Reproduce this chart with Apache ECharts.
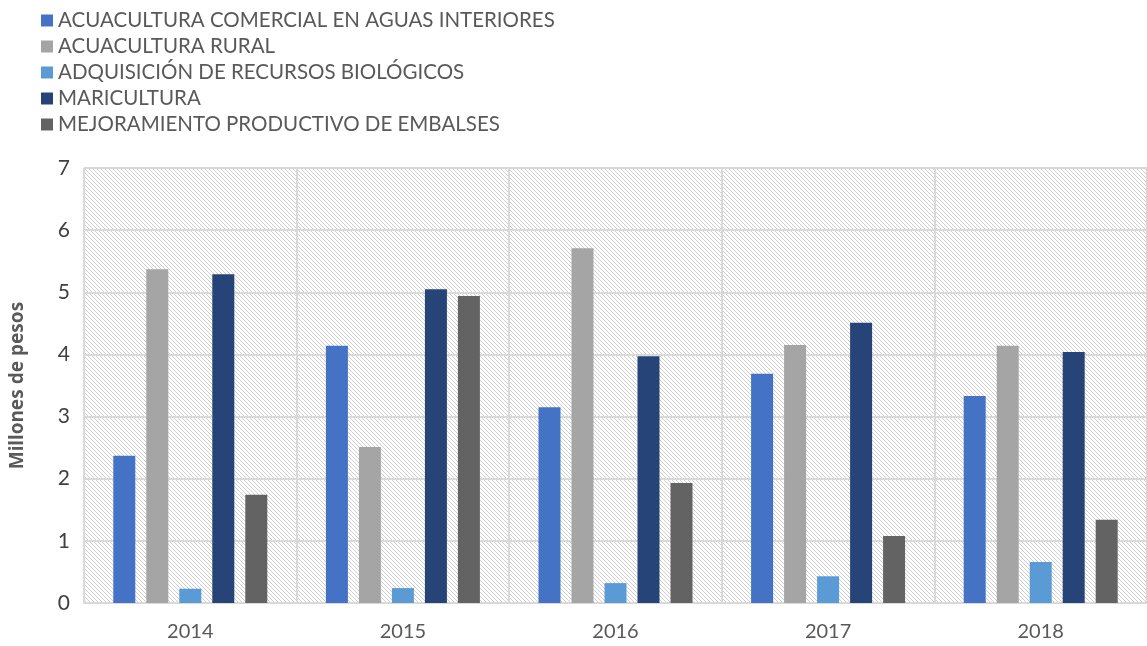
<!DOCTYPE html>
<html>
<head>
<meta charset="utf-8">
<script src="https://cdn.jsdelivr.net/npm/echarts@6/dist/echarts.min.js"></script>
<style>
  html, body { margin: 0; padding: 0; background: #fff; }
  #chart { width: 1147px; height: 646px; }
</style>
</head>
<body>
<div id="chart"></div>
<script>
const years = ['2014', '2015', '2016', '2017', '2018']
const seriesNames = [
  'ACUACULTURA COMERCIAL EN AGUAS INTERIORES',
  'ACUACULTURA RURAL',
  'ADQUISICIÓN DE RECURSOS BIOLÓGICOS',
  'MARICULTURA',
  'MEJORAMIENTO PRODUCTIVO DE EMBALSES',
]
const comercial = [2.37, 4.14, 3.15, 3.69, 3.33]
const rural = [5.37, 2.51, 5.71, 4.15, 4.14]
const adquisicion = [0.23, 0.24, 0.32, 0.43, 0.66]
const maricultura = [5.29, 5.05, 3.97, 4.51, 4.04]
const embalses = [1.74, 4.94, 1.93, 1.08, 1.34]
const yTicks = [0, 1, 2, 3, 4, 5, 6, 7]

const colors = ['#4472C4', '#A5A5A5', '#5B9BD5', '#264478', '#636363']
const values = [comercial, rural, adquisicion, maricultura, embalses]

// fondo rayado diagonal del área de trazado
const pat = document.createElement('canvas')
pat.width = 4; pat.height = 4
const ctx = pat.getContext('2d')
ctx.fillStyle = '#ffffff'
ctx.fillRect(0, 0, 4, 4)
ctx.fillStyle = '#d0d0d0'
for (let i = 0; i < 4; i++) ctx.fillRect(i, i, 1, 1)

const chart = echarts.init(document.getElementById('chart'))
chart.setOption({
  animation: false,
  color: colors,
  textStyle: { fontFamily: 'Lato' },
  legend: {
    orient: 'vertical', left: 36, top: 5,
    itemWidth: 12, itemHeight: 12, itemGap: 5,
    icon: 'rect',
    textStyle: { fontSize: 20.5, color: '#595959', padding: [0, 0, 0, 0] },
    data: seriesNames,
  },
  grid: {
    left: 81, right: 0, top: 168, bottom: 43,
    show: true, borderWidth: 0,
    backgroundColor: { image: pat, repeat: 'repeat' },
  },
  xAxis: {
    type: 'category', data: years,
    axisLine: { lineStyle: { color: '#d9d9d9', width: 2 } },
    axisTick: { show: false },
    splitLine: { show: true, lineStyle: { color: '#d9d9d9', width: 2 } },
    axisLabel: { fontSize: 20, color: '#595959', margin: 19 },
  },
  yAxis: {
    type: 'value', min: yTicks[0], max: yTicks[yTicks.length - 1], interval: 1,
    name: 'Millones de pesos', nameLocation: 'middle', nameGap: 57, nameRotate: 90,
    nameTextStyle: { fontSize: 19, fontWeight: 'bold', color: '#595959', fontFamily: 'Noto Sans' },
    axisLine: { show: false },
    axisTick: { show: false },
    splitLine: { lineStyle: { color: '#d9d9d9', width: 2 } },
    axisLabel: { fontSize: 21, color: '#404040', margin: 14 },
  },
  series: seriesNames.map((name, i) => ({
    name, type: 'bar',
    data: values[i],
    barWidth: 22, barGap: '50%',
    itemStyle: { color: colors[i] },
  })),
})
</script>
</body>
</html>
